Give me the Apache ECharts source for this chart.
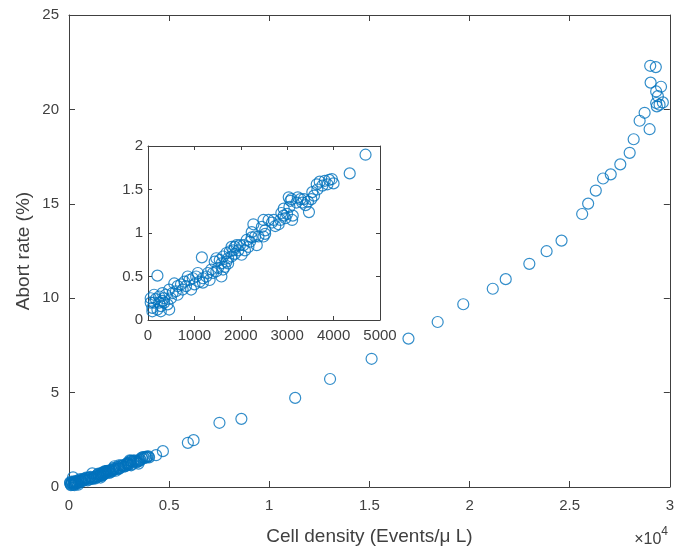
<!DOCTYPE html>
<html>
<head>
<meta charset="utf-8">
<script src="https://cdn.jsdelivr.net/npm/echarts@6/dist/echarts.min.js"></script>
<style>
  html, body { margin: 0; padding: 0; background: #fff; }
  #chart { width: 677px; height: 551px; }
</style>
</head>
<body>
<div id="chart"></div>
<script>
// Low-density measurements (shown in the main axes and in the zoomed inset)
const lowDensity = [
  4688, 4347, 3999, 3904, 3810, 3701, 3636, 3962, 3650, 3578,
  3520, 3447, 3469, 3396, 3287, 3229, 3200, 3091, 3070, 3048,
  2925, 3120, 3106, 2925, 2874, 2816, 2743, 2671, 2598, 2489,
  2271, 2525, 2489, 2380, 2344, 2235, 2199, 2163, 2054, 1981,
  1945, 1872, 1800, 1763, 1691, 1618, 1800, 1872, 2017, 1727,
  1655, 1582, 1691, 1546, 1473, 1437, 1582, 1473, 1364, 1292,
  1161, 1255, 1183, 1074, 1038, 965, 893, 856, 784, 929,
  711, 639, 566, 602, 530, 457, 385, 312, 240, 167,
  131, 94, 203, 276, 348, 421, 457, 203, 312, 494,
  639, 747, 820, 1001, 1110, 1183, 1328, 1401, 1510, 1618,
  1727, 1836, 1909, 2090, 2126, 2235, 2308, 2453, 2525, 2707,
  2852, 2961, 2997, 3033, 3324, 3360, 3541, 3759, 3868, 58,
  58, 131, 240, 348, 94, 276
];
const lowAbort = [
  1.90, 1.685, 1.57, 1.61, 1.60, 1.59, 1.56, 1.62, 1.50, 1.43,
  1.39, 1.36, 1.24, 1.32, 1.39, 1.41, 1.35, 1.39, 1.37, 1.30,
  1.28, 1.20, 1.15, 1.20, 1.23, 1.10, 1.08, 1.12, 1.15, 1.15,
  1.10, 0.99, 0.96, 0.96, 0.86, 0.95, 0.90, 0.84, 0.86, 0.86,
  0.80, 0.84, 0.84, 0.79, 0.77, 0.73, 0.73, 0.76, 0.75, 0.65,
  0.61, 0.65, 0.67, 0.69, 0.71, 0.67, 0.50, 0.56, 0.58, 0.54,
  0.72, 0.50, 0.48, 0.54, 0.50, 0.48, 0.46, 0.50, 0.44, 0.35,
  0.41, 0.39, 0.42, 0.33, 0.31, 0.35, 0.29, 0.31, 0.27, 0.24,
  0.20, 0.14, 0.12, 0.16, 0.20, 0.18, 0.12, 0.51, 0.22, 0.25,
  0.29, 0.35, 0.39, 0.41, 0.44, 0.43, 0.46, 0.54, 0.60, 0.58,
  0.71, 0.80, 0.86, 0.80, 0.92, 1.01, 0.96, 1.07, 1.03, 1.15,
  1.15, 1.17, 1.22, 1.41, 1.35, 1.39, 1.47, 1.545, 1.56, 0.20,
  0.25, 0.29, 0.20, 0.25, 0.10, 0.10
];

// High-density measurements (main axes only)
const highDensity = [
  5935, 6219, 7512, 8607, 11293, 13035, 15109, 16950, 18408, 19686,
  21159, 21806, 22985, 23847, 24593, 25623, 25921, 26303, 26666, 27049,
  27527, 27995, 28194, 28492, 28741, 28990, 29020, 29300, 29040, 29560,
  29318, 29403, 29318, 29650, 29353, 29487
];
const highAbort = [
  2.34, 2.48, 3.40, 3.61, 4.72, 5.72, 6.79, 7.86, 8.74, 9.68,
  10.50, 11.01, 11.82, 12.49, 13.05, 14.46, 15.01, 15.70, 16.34, 16.56,
  17.09, 17.70, 18.42, 19.40, 19.82, 18.95, 22.31, 22.24, 21.42, 21.20,
  20.95, 20.70, 20.34, 20.37, 20.16, 20.25
];

// Axis ticks
const mainXTicks = [0, 5000, 10000, 15000, 20000, 25000, 30000];
const mainYTicks = [0, 5, 10, 15, 20, 25];
const insetXTicks = [0, 1000, 2000, 3000, 4000, 5000];
const insetYTicks = [0, 0.5, 1, 1.5, 2];

const zip = (xs, ys) => xs.map((x, i) => [x, ys[i]]);
const mainData = zip(lowDensity, lowAbort).concat(zip(highDensity, highAbort));
const insetData = zip(lowDensity, lowAbort);

const AXIS = '#404040';
const BLUE = '#0072BD';
const FONT = '"Liberation Sans", Arial, sans-serif';

function axis(extra, opts) {
  const ticks = opts.ticks;
  return Object.assign({
    type: 'value',
    min: ticks[0],
    max: ticks[ticks.length - 1],
    interval: ticks[1] - ticks[0],
    splitLine: { show: false },
    axisLine: { show: true, onZero: false, lineStyle: { color: AXIS, width: 1 } },
    axisTick: { show: true, inside: true, length: opts.tickLen, lineStyle: { color: AXIS } },
    axisLabel: {
      show: opts.labels,
      color: AXIS,
      fontFamily: FONT,
      fontSize: opts.fontSize,
      margin: opts.margin,
      formatter: opts.formatter || (v => String(v))
    }
  }, extra);
}

const chart = echarts.init(document.getElementById('chart'), null, { renderer: 'canvas' });

const markerStyle = {
  color: 'rgba(0,0,0,0)',
  borderColor: BLUE,
  borderWidth: 1.2
};

chart.setOption({
  backgroundColor: '#fff',
  animation: false,
  grid: [
    { left: 69, top: 15, width: 603, height: 473, show: false },
    { left: 148, top: 146, width: 232, height: 174, show: true, backgroundColor: '#fff', borderWidth: 0 }
  ],
  xAxis: [
    axis({ gridIndex: 0, position: 'bottom',
      name: 'Cell density (Events/\u03bc L)', nameLocation: 'middle', nameGap: 40,
      nameMoveOverlap: false,
      nameTextStyle: { color: AXIS, fontFamily: FONT, fontSize: 19 } },
      { ticks: mainXTicks, tickLen: 6, labels: true, fontSize: 15, margin: 11,
        formatter: v => String(v / 10000) }),
    axis({ gridIndex: 0, position: 'top' }, { ticks: mainXTicks, tickLen: 6, labels: false }),
    axis({ gridIndex: 1, position: 'bottom' },
      { ticks: insetXTicks, tickLen: 4, labels: true, fontSize: 15, margin: 8 }),
    axis({ gridIndex: 1, position: 'top' }, { ticks: insetXTicks, tickLen: 4, labels: false })
  ],
  yAxis: [
    axis({ gridIndex: 0, position: 'left',
      name: 'Abort rate (%)', nameLocation: 'middle', nameGap: 45, nameRotate: 90,
      nameMoveOverlap: false,
      nameTextStyle: { color: AXIS, fontFamily: FONT, fontSize: 19, verticalAlign: 'middle' } },
      { ticks: mainYTicks, tickLen: 6, labels: true, fontSize: 15, margin: 10 }),
    axis({ gridIndex: 0, position: 'right' }, { ticks: mainYTicks, tickLen: 6, labels: false }),
    axis({ gridIndex: 1, position: 'left' },
      { ticks: insetYTicks, tickLen: 4, labels: true, fontSize: 15, margin: 5 }),
    axis({ gridIndex: 1, position: 'right' }, { ticks: insetYTicks, tickLen: 4, labels: false })
  ],
  series: [
    {
      type: 'scatter', xAxisIndex: 0, yAxisIndex: 0,
      symbol: 'circle', symbolSize: 11,
      itemStyle: markerStyle, data: mainData, z: 2
    },
    {
      type: 'scatter', xAxisIndex: 2, yAxisIndex: 2,
      symbol: 'circle', symbolSize: 11,
      itemStyle: markerStyle, data: insetData, z: 3
    }
  ],
  graphic: [
    {
      type: 'text', right: 9, top: 526,
      style: {
        text: '{t|\u00d710}{s|4}',
        rich: {
          t: { fontFamily: FONT, fontSize: 16, fill: AXIS, padding: [6, 0, 0, 0] },
          s: { fontFamily: FONT, fontSize: 12, fill: AXIS, verticalAlign: 'top', padding: [0, 0, 8, 0] }
        }
      }
    }
  ]
});
</script>
</body>
</html>
